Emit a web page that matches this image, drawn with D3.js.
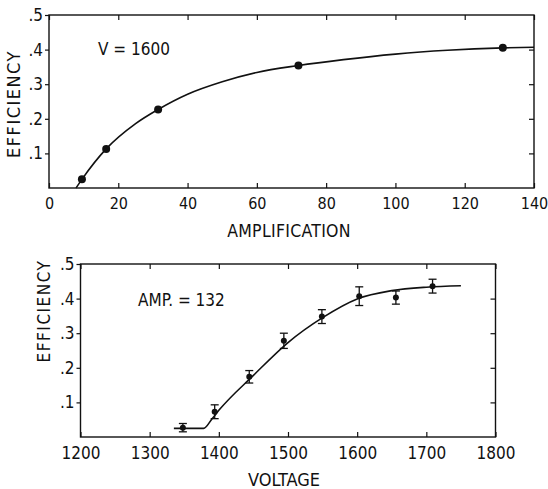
<!DOCTYPE html>
<html>
<head>
<meta charset="utf-8">
<script src="https://cdn.jsdelivr.net/npm/d3@7"></script>
<style>
  html, body { margin: 0; padding: 0; background: #fff; }
  svg text { font-family: "Liberation Sans Narrow", "Arial Narrow", "DejaVu Sans Condensed", sans-serif; fill: #111; }
</style>
</head>
<body>
<svg id="chart" width="548" height="489"></svg>
<script>
// ---- Top panel data (V = 1600) ----
const ampPoints = [9.5, 16.5, 31.5, 72, 131];
const ampEff = [0.025, 0.113, 0.227, 0.354, 0.405];
const ampCurveX = [7.8, 9.5, 16.5, 25, 31.5, 40, 50, 60, 72, 85, 100, 115, 131, 140];
const ampCurveY = [0, 0.025, 0.113, 0.186, 0.227, 0.271, 0.307, 0.334, 0.354, 0.371, 0.387, 0.398, 0.405, 0.407];
const ampTicks = [0, 20, 40, 60, 80, 100, 120, 140];
const effTicks = [0.1, 0.2, 0.3, 0.4, 0.5];
const effTickLabels = [".1", ".2", ".3", ".4", ".5"];

// ---- Bottom panel data (AMP = 132) ----
const voltPoints = [1348, 1394, 1444, 1494, 1549, 1603, 1656, 1709];
const voltEff = [0.027, 0.073, 0.174, 0.278, 0.348, 0.407, 0.403, 0.436];
const voltErr = [0.012, 0.02, 0.018, 0.022, 0.02, 0.027, 0.019, 0.02];
const voltCurveX = [1335, 1378, 1390, 1400, 1450, 1500, 1550, 1600, 1650, 1700, 1750];
const voltCurveY = [0.025, 0.025, 0.052, 0.077, 0.178, 0.273, 0.345, 0.399, 0.423, 0.433, 0.437];
const voltTicks = [1200, 1300, 1400, 1500, 1600, 1700, 1800];

const svg = d3.select("#chart");

function panel(cfg) {
  const g = svg.append("g");
  const x = d3.scaleLinear().domain(cfg.xDomain).range([cfg.left, cfg.right]);
  const y = d3.scaleLinear().domain([0, 0.5]).range([cfg.bottom, cfg.top]);

  // frame
  g.append("rect")
    .attr("x", cfg.left).attr("y", cfg.top)
    .attr("width", cfg.right - cfg.left).attr("height", cfg.bottom - cfg.top)
    .attr("fill", "none").attr("stroke", "#111").attr("stroke-width", 1.4);

  // bottom axis (inward ticks)
  const xb = g.append("g").attr("transform", `translate(0,${cfg.bottom})`)
    .call(d3.axisBottom(x).tickValues(cfg.xTicks).tickSize(-5).tickPadding(10).tickFormat(d3.format("d")));
  xb.select(".domain").remove();
  xb.selectAll("line").attr("stroke", "#111").attr("stroke-width", 1.2);
  xb.selectAll("text").attr("font-size", cfg.xFont).attr("fill", "#111").attr("font-family", null);

  // top ticks (inward)
  const xt = g.append("g").attr("transform", `translate(0,${cfg.top})`)
    .call(d3.axisTop(x).tickValues(cfg.xTicks).tickSize(-5).tickFormat(""));
  xt.select(".domain").remove();
  xt.selectAll("line").attr("stroke", "#111").attr("stroke-width", 1.2);

  // left axis (outward ticks)
  const yl = g.append("g").attr("transform", `translate(${cfg.left},0)`)
    .call(d3.axisLeft(y).tickValues(effTicks).tickSize(4).tickPadding(2)
      .tickFormat((d, i) => effTickLabels[i]));
  yl.select(".domain").remove();
  yl.selectAll("line").attr("stroke", "#111").attr("stroke-width", 1.2);
  yl.selectAll("text").attr("font-size", cfg.yFont).attr("fill", "#111").attr("font-family", null);

  // right ticks (inward)
  const yr = g.append("g").attr("transform", `translate(${cfg.right},0)`)
    .call(d3.axisRight(y).tickValues(effTicks.slice(0, 4)).tickSize(-5).tickFormat(""));
  yr.select(".domain").remove();
  yr.selectAll("line").attr("stroke", "#111").attr("stroke-width", 1.2);

  // curve
  const line = d3.line().x(d => x(d[0])).y(d => y(d[1])).curve(d3.curveMonotoneX);
  g.append("path")
    .datum(cfg.curveX.map((v, i) => [v, cfg.curveY[i]]))
    .attr("d", line).attr("fill", "none").attr("stroke", "#111").attr("stroke-width", 1.6);

  // error bars
  if (cfg.err) {
    const eb = g.append("g");
    cfg.px.forEach((v, i) => {
      const cx = x(v), y1 = y(cfg.py[i] - cfg.err[i]), y2 = y(cfg.py[i] + cfg.err[i]);
      eb.append("line").attr("x1", cx).attr("x2", cx).attr("y1", y1).attr("y2", y2)
        .attr("stroke", "#111").attr("stroke-width", 1.3);
      [y1, y2].forEach(yy => eb.append("line").attr("x1", cx - 4).attr("x2", cx + 4)
        .attr("y1", yy).attr("y2", yy).attr("stroke", "#111").attr("stroke-width", 1.3));
    });
  }

  // points
  g.append("g").selectAll("circle")
    .data(cfg.px.map((v, i) => [v, cfg.py[i]]))
    .join("circle")
    .attr("cx", d => x(d[0])).attr("cy", d => y(d[1]))
    .attr("r", cfg.r).attr("fill", "#111");

  // annotation
  g.append("text").attr("x", cfg.noteX).attr("y", cfg.noteY)
    .attr("font-size", cfg.noteFont).text(cfg.note);

  // x title
  g.append("text").attr("x", cfg.xTitleX).attr("y", cfg.xTitleY)
    .attr("text-anchor", "middle").attr("font-size", cfg.titleFont)
    .attr("letter-spacing", cfg.titleSpacing).text(cfg.xTitle);

  // y title
  g.append("text")
    .attr("transform", `translate(${cfg.yTitleX},${cfg.yTitleY}) rotate(-90)`)
    .attr("text-anchor", "middle").attr("font-size", cfg.yTitleFont)
    .attr("letter-spacing", 1.5).text("EFFICIENCY");
}

panel({
  xDomain: [0, 140], left: 49, right: 534, top: 15, bottom: 188,
  xTicks: ampTicks, xFont: 16, yFont: 17,
  curveX: ampCurveX, curveY: ampCurveY,
  px: ampPoints, py: ampEff, r: 4,
  note: "V = 1600", noteX: 98, noteY: 55, noteFont: 17,
  xTitle: "AMPLIFICATION", xTitleX: 289, xTitleY: 237, titleFont: 17.5, titleSpacing: 0.3,
  yTitleX: 20, yTitleY: 104, yTitleFont: 18
});

panel({
  xDomain: [1200, 1800], left: 80.5, right: 495.5, top: 264, bottom: 437,
  xTicks: voltTicks, xFont: 17, yFont: 17,
  curveX: voltCurveX, curveY: voltCurveY,
  px: voltPoints, py: voltEff, err: voltErr, r: 3,
  note: "AMP. = 132", noteX: 138, noteY: 306, noteFont: 17,
  xTitle: "VOLTAGE", xTitleX: 284, xTitleY: 486, titleFont: 18, titleSpacing: 0,
  yTitleX: 50, yTitleY: 311, yTitleFont: 17
});
</script>
</body>
</html>
